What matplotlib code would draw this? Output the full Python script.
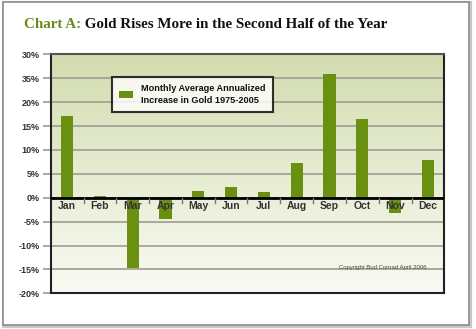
import numpy as np
import matplotlib
matplotlib.use("Agg")
import matplotlib.pyplot as plt
from matplotlib.patches import Rectangle, Patch
from matplotlib.colors import LinearSegmentedColormap
from matplotlib import font_manager

months = ["Jan", "Feb", "Mar", "Apr", "May", "Jun", "Jul", "Aug", "Sep", "Oct", "Nov", "Dec"]
values = [17.0, 0.3, -14.7, -4.5, 1.3, 2.2, 1.15, 7.2, 25.8, 16.4, -3.3, 7.8]
yticks = [30, 25, 20, 15, 10, 5, 0, -5, -10, -15, -20]
ytick_labels = ["30%", "35%", "20%", "15%", "10%", "5%", "0%", "-5%", "-10%", "-15%", "-20%"]
legend_label = "Monthly Average Annualized\nIncrease in Gold 1975-2005"
title_a = "Chart A:"
title_b = " Gold Rises More in the Second Half of the Year"
copyright_text = "Copyright Bud Conrad April 2006"

W, H = 477, 329
fig = plt.figure(figsize=(W / 100, H / 100), dpi=100)
fig.patch.set_facecolor("white")

fig.patches.append(Rectangle((4 / W, 1 - 326 / H), 466 / W, 323 / H, transform=fig.transFigure,
                             facecolor="none", edgecolor="#c8c8c8", linewidth=3, zorder=-2))
fig.patches.append(Rectangle((3 / W, 1 - 325 / H), 466 / W, 323 / H, transform=fig.transFigure,
                             facecolor="white", edgecolor="#8c8c8c", linewidth=1.2, zorder=-1))

left, right, top, bottom = 50.7, 444.3, 54.3, 293.3
ax = fig.add_axes([left / W, 1 - bottom / H, (right - left) / W, (bottom - top) / H])
ax.set_zorder(1)

sans = ["Liberation Sans", "DejaVu Sans"]
bar_color = "#6a9012"

ax.set_xlim(-0.5, 11.5)
cmap = LinearSegmentedColormap.from_list("bg", ["#d2dcae", "#e6ecd2", "#f9faf3"])
grad = np.linspace(0, 1, 256).reshape(-1, 1)
ax.imshow(grad, extent=(-0.5, 11.5, -20, 30), aspect="auto", cmap=cmap, zorder=0,
          origin="upper")
ax.set_ylim(-20, 30)

x = np.arange(len(months))
ax.bar(x, values, width=0.37, color=bar_color, zorder=3)

ax.set_yticks(yticks)
ax.set_yticklabels(ytick_labels, fontsize=6.5, color="#333333", family=sans, fontweight="bold")
ax.yaxis.grid(True, color="#a3a39a", linewidth=1.3, zorder=1)
ax.set_axisbelow(True)
ax.tick_params(axis="y", length=6, width=1.2, color="#999999", pad=2)
ax.set_xticks([])

ax.axhline(0, color="black", linewidth=2, zorder=5)
for xi in x[:-1]:
    ax.plot([xi + 0.5, xi + 0.5], [0, -1.1], color="#777777", linewidth=1, zorder=5)
for xi, m in zip(x, months):
    ax.text(xi, -0.6, m, ha="center", va="top", fontsize=7.5, color="#333333",
            family=sans, fontweight="bold", zorder=6)

for side in ["left", "bottom", "top", "right"]:
    ax.spines[side].set_linewidth(1.5)
    ax.spines[side].set_color("#222222")
ax.spines["top"].set_color("#555555")

leg = ax.legend([Patch(facecolor=bar_color)], [legend_label], loc="upper left",
                bbox_to_anchor=(111.7 / W, 1 - 76.7 / H), bbox_transform=fig.transFigure,
                borderaxespad=0, frameon=True, fancybox=False, edgecolor="black",
                prop=font_manager.FontProperties(family=sans, weight="bold", size=6.6),
                handlelength=1.6, handleheight=0.7, handletextpad=0.9, borderpad=0.75,
                labelspacing=0.2)
leg.get_frame().set_linewidth(1.5)
leg.set_zorder(10)
for t in leg.get_texts():
    t.set_color("#111111")
    t.set_linespacing(1.5)

ax.text(0.955, 0.11, copyright_text, transform=ax.transAxes, ha="right", va="center",
        fontsize=4.3, color="#444444", family=sans, zorder=6)

tfam = ["Liberation Serif", "DejaVu Serif"]
t1 = fig.text(24 / W, 1 - 25 / H, title_a, fontsize=10.8, fontweight="bold",
              family=tfam, color="#6b8a1e", va="center", ha="left")
fig.canvas.draw()
bb = t1.get_window_extent()
fig.text(bb.x1 / W, 1 - 25 / H, title_b, fontsize=10.8, fontweight="bold",
         family=tfam, color="#111111", va="center", ha="left")

fig.savefig("out.png", dpi=100)
